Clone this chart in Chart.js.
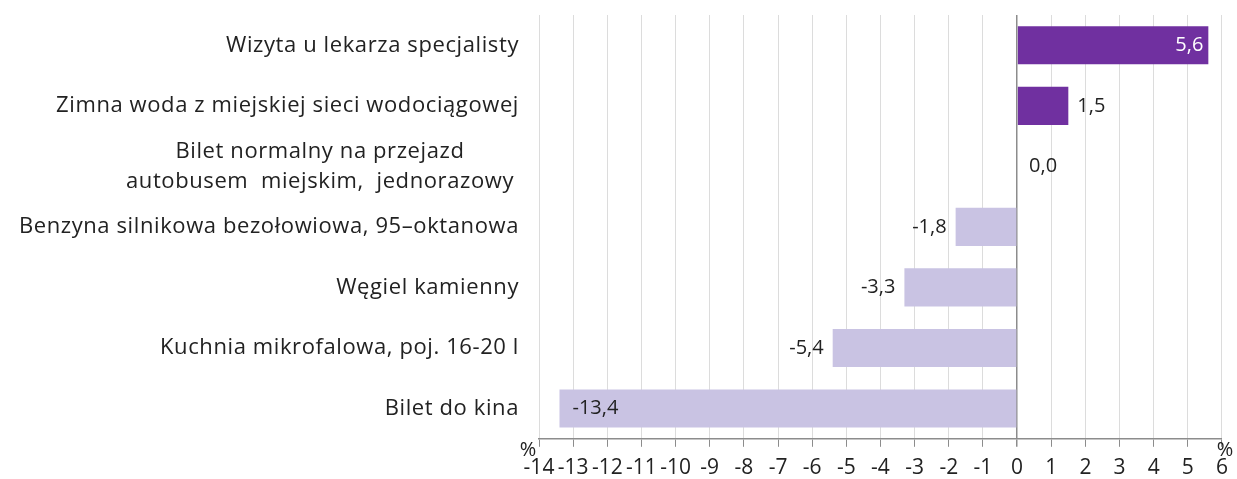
<!DOCTYPE html>
<html>
<head>
<meta charset="utf-8">
<script src="https://cdn.jsdelivr.net/npm/chart.js@4/dist/chart.umd.min.js"></script>
<style>
    html, body { margin: 0; padding: 0; background: #fff; }
    #wrap { width: 1237px; height: 479px; }
</style>
</head>
<body>
<div id="wrap"><canvas id="chart" width="1237" height="479"></canvas></div>
<script>
const categories = [
    'Wizyta u lekarza specjalisty',
    'Zimna woda z miejskiej sieci wodociągowej',
    ['Bilet normalny na przejazd', 'autobusem  miejskim,  jednorazowy'],
    'Benzyna silnikowa bezołowiowa, 95–oktanowa',
    'Węgiel kamienny',
    'Kuchnia mikrofalowa, poj. 16-20 l',
    'Bilet do kina'
];
const changes = [5.6, 1.5, 0.0, -1.8, -3.3, -5.4, -13.4];
const xMin = -14;
const xMax = 6;

const FONT = '"Open Sans", "Noto Sans", sans-serif';
const TEXT = '#222222';

function fmt(v) {
    return v.toFixed(1).replace('.', ',');
}

// category labels on the left, drawn at the category scale's positions
const labelPlugin = {
    id: 'catLabels',
    afterDraw(chart) {
        const c = chart.ctx;
        const y = chart.scales.y;
        const right = chart.chartArea.left - 20;
        c.save();
        c.font = '22px ' + FONT;
        c.letterSpacing = '0.6px';
        c.fillStyle = TEXT;
        c.textBaseline = 'middle';
        categories.forEach((lab, i) => {
            const py = y.getPixelForValue(i);
            if (Array.isArray(lab)) {
                const w = Math.max(...lab.map(l => c.measureText(l).width));
                const cx = right - 5 - w / 2;
                c.textAlign = 'center';
                lab.forEach((l, j) => {
                    c.fillText(l, cx, py + (j - (lab.length - 1) / 2) * 30);
                });
            } else {
                c.textAlign = 'right';
                c.fillText(lab, right, py);
            }
        });
        // % markers at both ends of the axis
        const a = chart.chartArea;
        c.letterSpacing = '0px';
        c.font = '20px ' + FONT;
        c.textAlign = 'center';
        c.fillText('%', a.left - 11, a.bottom + 11);
        c.fillText('%', a.right + 3, a.bottom + 11);
        c.restore();
    }
};

// value labels next to / inside each bar
const valuePlugin = {
    id: 'values',
    afterDatasetsDraw(chart) {
        const c = chart.ctx;
        const meta = chart.getDatasetMeta(0);
        const x0 = chart.scales.x.getPixelForValue(0);
        c.save();
        c.font = '20px ' + FONT;
        c.textBaseline = 'middle';
        meta.data.forEach((bar, i) => {
            const v = changes[i];
            const txt = fmt(v);
            c.fillStyle = TEXT;
            if (v >= 5) {
                c.fillStyle = '#ffffff';
                c.textAlign = 'right';
                c.fillText(txt, bar.x - 5, bar.y);
            } else if (v <= -10) {
                c.textAlign = 'left';
                c.fillText(txt, bar.x + 13, bar.y);
            } else if (v > 0) {
                c.textAlign = 'left';
                c.fillText(txt, bar.x + 9, bar.y);
            } else if (v === 0) {
                c.textAlign = 'left';
                c.fillText(txt, x0 + 12, bar.y);
            } else {
                c.textAlign = 'right';
                c.fillText(txt, bar.x - 9, bar.y);
            }
        });
        c.restore();
    }
};

const ctx = document.getElementById('chart');

new Chart(ctx, {
    type: 'bar',
    data: {
        labels: categories,
        datasets: [{
            data: changes,
            backgroundColor: changes.map(v => v > 0 ? '#7030a0' : '#c9c3e3'),
            borderWidth: 0,
            barPercentage: 0.63,
            categoryPercentage: 1
        }]
    },
    options: {
        indexAxis: 'y',
        responsive: false,
        animation: false,
        layout: { padding: { top: 15, right: 12, bottom: -11, left: 0 } },
        plugins: {
            legend: { display: false },
            tooltip: { enabled: false }
        },
        scales: {
            x: {
                min: xMin,
                max: xMax,
                ticks: {
                    stepSize: 1,
                    color: TEXT,
                    font: { family: FONT, size: 21 },
                    padding: 9,
                    maxRotation: 0,
                    autoSkip: false
                },
                grid: {
                    color: (c) => c.tick && c.tick.value === 0 ? '#8c8c8c' : '#dcdcdc',
                    lineWidth: (c) => c.tick && c.tick.value === 0 ? 1.5 : 1,
                    tickColor: '#8c8c8c',
                    tickLength: 8
                },
                border: { display: true, color: '#8c8c8c', width: 1.5 }
            },
            y: {
                ticks: { display: false },
                grid: { display: false },
                border: { display: false },
                afterFit(scale) { scale.width = 539; }
            }
        }
    },
    plugins: [labelPlugin, valuePlugin]
});
</script>
</body>
</html>
